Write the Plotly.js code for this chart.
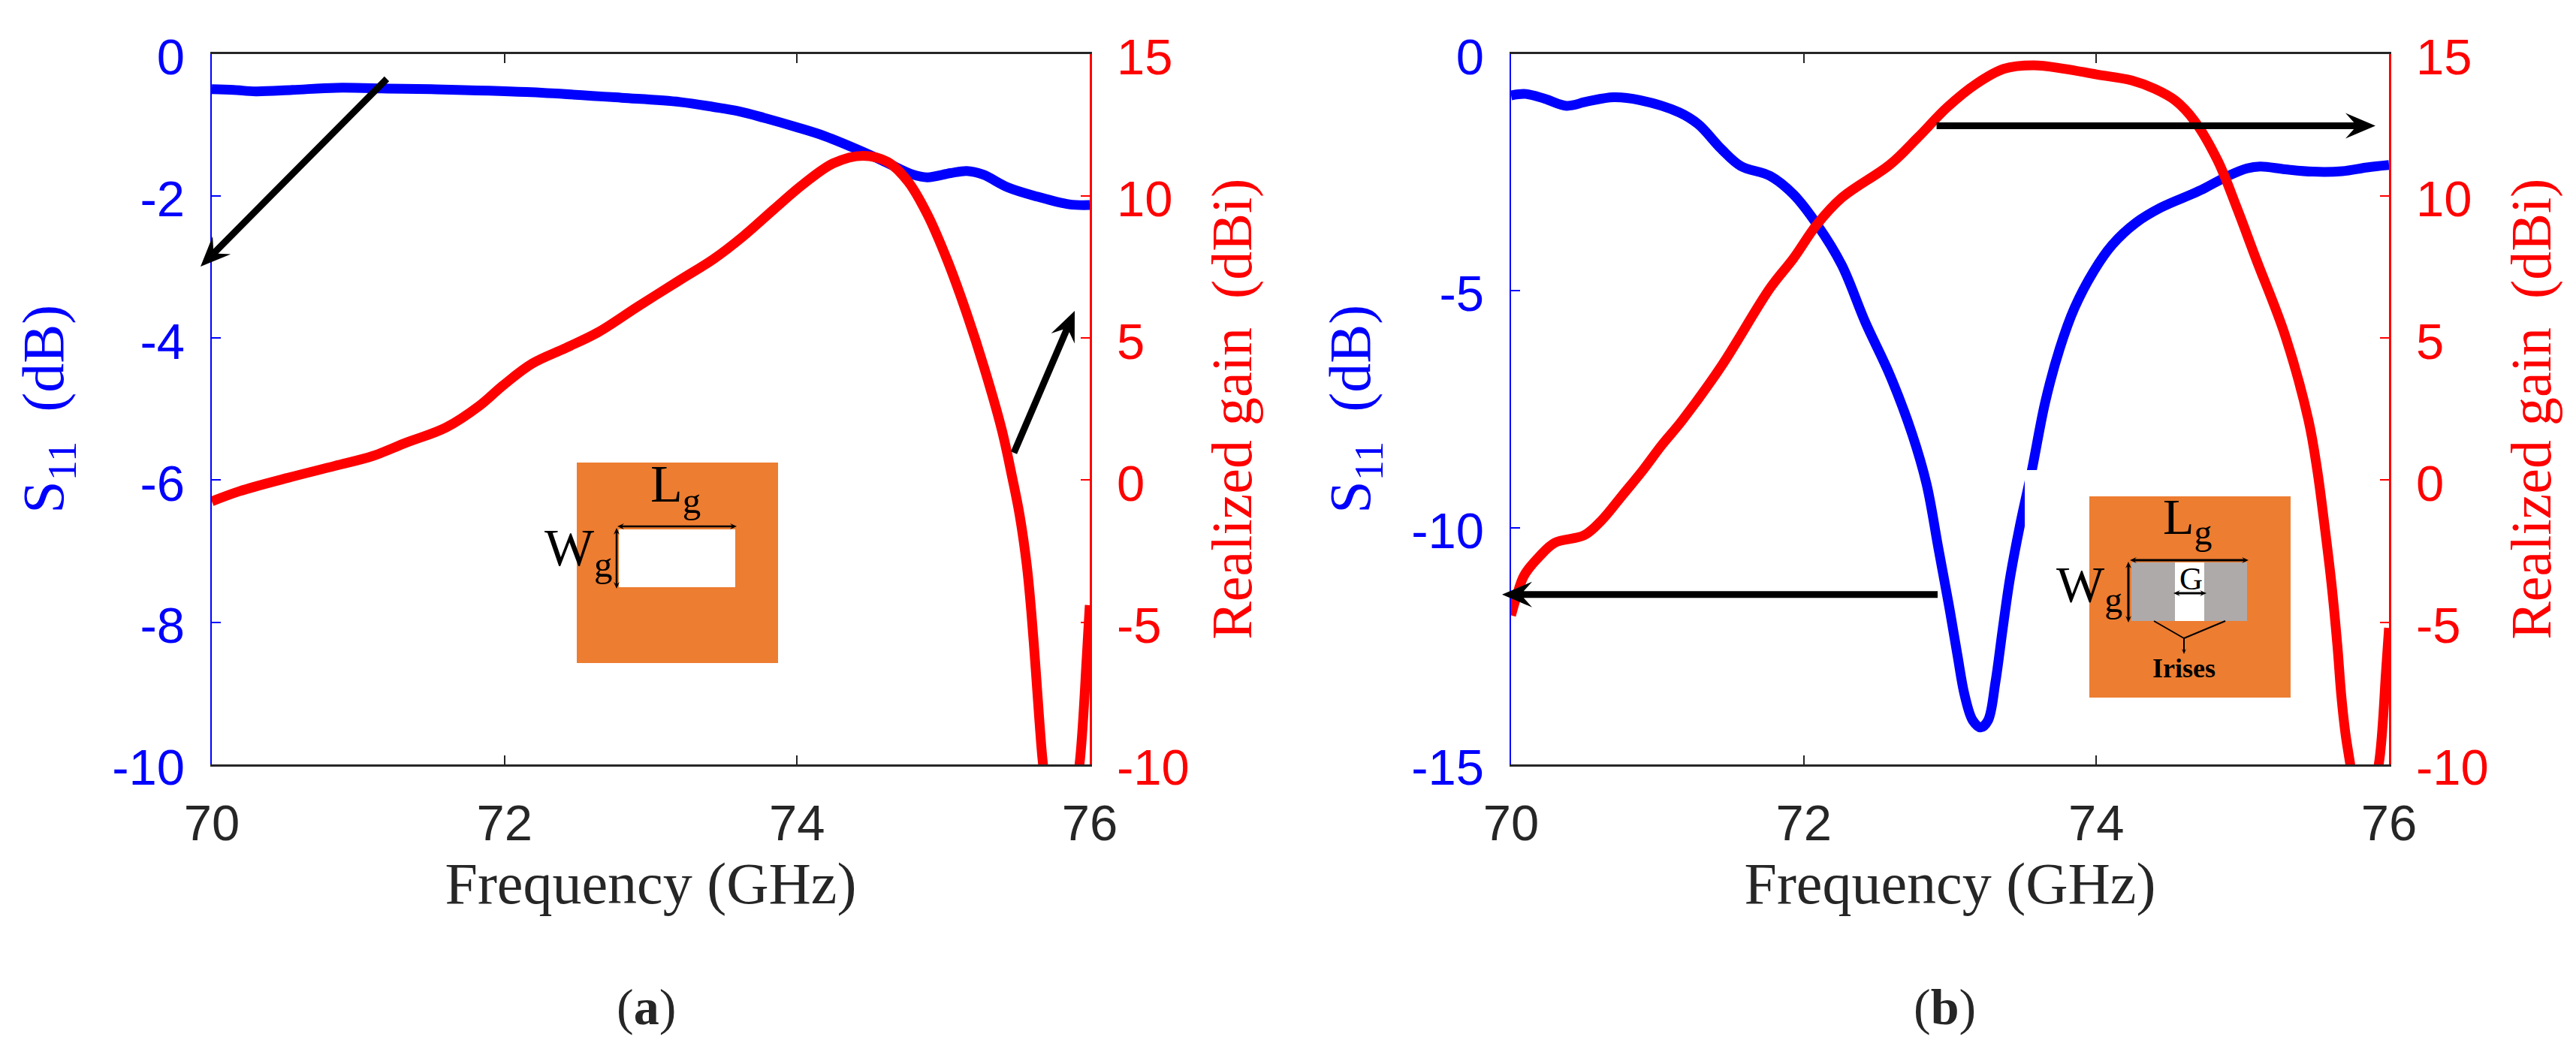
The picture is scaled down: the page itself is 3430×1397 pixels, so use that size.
<!DOCTYPE html>
<html><head><meta charset="utf-8">
<script src="https://cdn.plot.ly/plotly-3.0.1.min.js"></script>
<style>html,body{margin:0;padding:0;background:#fff}</style></head>
<body><div id="chart" style="width:3430px;height:1397px"></div>
<script>
// Panel (a)
const aS11Freq = [70,70.15,70.3,70.55,70.85,71.2,71.5,72.15,72.8,73.2,73.43,73.6,73.77,73.99,74.19,74.45,74.62,74.79,74.89,75.05,75.16,75.27,75.44,75.64,75.86,76];
const aS11Val  = [-0.5,-0.51,-0.53,-0.51,-0.48,-0.49,-0.5,-0.54,-0.62,-0.68,-0.75,-0.81,-0.9,-1.03,-1.16,-1.38,-1.54,-1.7,-1.74,-1.68,-1.65,-1.7,-1.88,-2.01,-2.12,-2.13];
const aGainFreq = [70,70.19,70.52,70.84,71.1,71.33,71.6,71.83,71.99,72.19,72.42,72.64,72.91,73.2,73.43,73.63,73.84,74.04,74.25,74.45,74.62,74.76,74.89,75.03,75.16,75.28,75.4,75.47,75.52,75.57,75.6,75.63,75.655,75.68,75.72,75.8,75.88,75.93,75.98,76];
const aGainVal  = [-0.75,-0.39,0.08,0.5,0.85,1.32,1.85,2.62,3.33,4.1,4.65,5.2,6.1,7.04,7.78,8.57,9.52,10.4,11.15,11.41,11.19,10.49,9.35,7.69,5.85,3.93,1.75,0.1,-1.2,-3.0,-4.6,-6.6,-8.4,-9.96,-11.5,-13.5,-11.5,-10,-6.2,-4.4];
// Panel (b)
const bS11Freq = [70,70.1,70.23,70.38,70.52,70.7,70.88,71.15,71.28,71.44,71.57,71.77,71.93,72.09,72.26,72.42,72.59,72.74,72.84,72.92,72.99,73.05,73.1,73.155,73.21,73.26,73.31,73.36,73.41,73.475,73.56,73.65,73.75,73.85,73.98,74.11,74.27,74.44,74.7,74.9,75.03,75.12,75.29,75.48,75.68,75.85,76];
const bS11Val  = [-0.88,-0.85,-0.95,-1.1,-1.01,-0.92,-0.98,-1.24,-1.49,-2.02,-2.37,-2.58,-2.97,-3.6,-4.46,-5.66,-6.79,-8.02,-9.09,-10.43,-11.6,-12.68,-13.54,-14.07,-14.22,-14.07,-13.27,-12.14,-11.07,-10.0,-8.78,-7.36,-6.22,-5.37,-4.6,-4.03,-3.57,-3.25,-2.9,-2.58,-2.42,-2.38,-2.44,-2.49,-2.48,-2.4,-2.35];
const bGainFreq = [70,70.04,70.09,70.2,70.3,70.5,70.62,70.76,70.9,71.03,71.17,71.44,71.77,71.93,72.09,72.26,72.59,72.78,72.98,73.18,73.37,73.57,73.78,74,74.24,74.4,74.54,74.67,74.83,74.96,75.09,75.29,75.45,75.51,75.555,75.606,75.647,75.674,75.702,75.734,75.78,75.83,75.87,75.93,75.98,76];
const bGainVal  = [-4.76,-4.05,-3.35,-2.65,-2.2,-1.94,-1.41,-0.54,0.34,1.23,2.1,4.03,6.75,7.8,8.99,9.93,11.1,12.05,13.11,13.94,14.47,14.59,14.47,14.27,14.06,13.76,13.35,12.64,11.23,9.58,7.8,5.09,2.1,0.34,-1.41,-3.6,-5.8,-7.58,-8.9,-9.96,-11.5,-12,-11.2,-10,-6.7,-5.2];
// Ticks and labels
const freqTicks = [70,72,74,76];
const aS11Ticks = [0,-2,-4,-6,-8,-10];
const aS11TickText = ['0','-2','-4','-6','-8','-10'];
const bS11Ticks = [0,-5,-10,-15];
const bS11TickText = ['0','-5','-10','-15'];
const gainTicks = [15,10,5,0,-5,-10];
const gainTickText = ['15','10','5','0','-5','-10'];
const xTitle = 'Frequency (GHz)';
const s11Title = 'S<sub>11</sub>\u00a0\u00a0(dB)';
const gainTitle = 'Realized gain\u00a0\u00a0(dBi)';

const W = 3430, H = 1397;
const px = x => x / W, py = y => 1 - y / H;
const SERIF = 'Liberation Serif', SANS = 'Liberation Sans';
const BLUE = '#0000ff', RED = '#ff0000', DARK = '#262626', ORANGE = '#ed7d31', GREY = '#aeaaaa';
const X_DOM = [[282, 1451], [2012, 3181]];
const Y_DOM = [py(1018), py(71.5)];

function line(x, y, color, xa, ya) {
  return {x, y, xaxis: xa, yaxis: ya, mode: 'lines', showlegend: false, hoverinfo: 'skip',
          line: {color, width: 13, shape: 'spline', smoothing: 1}};
}
const data = [
  line(aS11Freq, aS11Val, BLUE, 'x', 'y'),
  line(aGainFreq, aGainVal, RED, 'x', 'y2'),
  line(bS11Freq, bS11Val, BLUE, 'x2', 'y3'),
  line(bGainFreq, bGainVal, RED, 'x2', 'y4')
];
function xAxis(dom, anchor) {
  return {domain: [px(dom[0]), px(dom[1])], anchor, range: [70, 76], tickvals: freqTicks, ticktext: freqTicks.map(String),
    ticks: 'inside', ticklen: 12, tickwidth: 2, tickcolor: DARK, mirror: 'ticks', showline: true, linecolor: DARK, linewidth: 2.5,
    showgrid: false, zeroline: false, ticklabelstandoff: 18,
    tickfont: {family: SANS, size: 67, color: DARK},
    title: {text: xTitle, font: {family: SERIF, size: 78, color: DARK}, standoff: 16}};
}
function yAxis(range, vals, text, color, title, side, anchor, overlay, standoff, size) {
  const o = {domain: Y_DOM, anchor, range, tickvals: vals, ticktext: text, side,
    ticks: 'inside', ticklen: 12, tickwidth: 2, tickcolor: color, showline: true, linecolor: color, linewidth: 2.5,
    showgrid: false, zeroline: false, ticklabelstandoff: 20, ticklabelshift: 4,
    tickfont: {family: SANS, size: 67, color},
    title: {text: title, font: {family: SERIF, size, color}, standoff}};
  if (overlay) o.overlaying = overlay;
  return o;
}
function rect(x0, y0, x1, y1, fill) {
  return {type: 'rect', xref: 'paper', yref: 'paper', x0: px(x0), x1: px(x1), y0: py(y0), y1: py(y1),
          fillcolor: fill, line: {width: 0}, layer: 'above'};
}
function seg(x0, y0, x1, y1, w) {
  return {type: 'line', xref: 'paper', yref: 'paper', x0: px(x0), x1: px(x1), y0: py(y0), y1: py(y1),
          line: {color: '#000', width: w || 2}, layer: 'above'};
}
// Filled annotation arrow: shaft plus a swept head at each requested end.
// The outline is one closed polygon so no region overlaps under the even-odd fill.
function arrow(ox, oy, tx, ty, w, len, half, both) {
  const d = Math.hypot(tx - ox, ty - oy), ux = (tx - ox) / d, uy = (ty - oy) / d, nx = -uy, ny = ux;
  const at = (along, side) => [ox + ux * along + nx * side, oy + uy * along + ny * side];
  const notch = 0.72 * len;
  const pts = [at(d, 0), at(d - len, half), at(d - notch, w / 2)];
  if (both) pts.push(at(notch, w / 2), at(len, half), at(0, 0), at(len, -half), at(notch, -w / 2));
  else pts.push(at(0, w / 2), at(0, -w / 2));
  pts.push(at(d - notch, -w / 2), at(d - len, -half));
  const path = 'M' + pts.map(p => px(p[0]) + ',' + py(p[1])).join('L') + 'Z';
  return {type: 'path', xref: 'paper', yref: 'paper', path, fillcolor: '#000', line: {width: 0}, layer: 'above'};
}
function label(text, x, y, size, family, color) {
  return {text, xref: 'paper', yref: 'paper', x: px(x), y: py(y), xanchor: 'center', yanchor: 'middle', showarrow: false,
          font: {family: family || SERIF, size, color: color || '#000'}};
}
const shapes = [
  rect(768, 616, 1036, 883, ORANGE),
  rect(824, 705, 979, 782, '#ffffff'),
  arrow(822, 701, 981, 701, 2.5, 9, 4, true),
  arrow(821, 703, 821, 784, 2.5, 9, 4, true),
  rect(2782, 661, 3050, 929, ORANGE),
  rect(2838, 749, 2992, 827, GREY),
  rect(2896, 749, 2935, 827, '#ffffff'),
  arrow(2836, 746, 2994, 746, 3, 9, 4, true),
  arrow(2834, 748, 2834, 829, 3, 9, 4, true),
  arrow(2894, 790, 2938, 790, 3, 9, 4, true),
  seg(2868, 827, 2908, 850, 2), seg(2963, 827, 2908, 850, 2),
  arrow(2908, 850, 2908, 871, 2, 7, 3, false),
  rect(2696, 626, 2775, 715, '#ffffff'),
  arrow(515, 105, 267, 355, 9, 40, 17, false),
  arrow(1350, 603, 1431, 414, 9, 40, 17, false),
  arrow(2578.6, 167.4, 3163, 167.4, 9, 40, 17, false),
  arrow(2580, 791.7, 2000, 791.7, 9, 40, 17, false)
];
const annotations = [
  label('(<b>a</b>)', 860, 1341, 68, SERIF, DARK),
  label('(<b>b</b>)', 2589, 1341, 68, SERIF, DARK),
  label('L<sub>g</sub>', 900, 650, 70),
  label('W<sub>g</sub>', 770, 735, 70),
  label('L<sub>g</sub>', 2912, 692, 68),
  label('W<sub>g</sub>', 2782, 782, 68),
  label('G', 2917, 771, 43),
  label('<b>Irises</b>', 2908, 890, 36)
];
const layout = {
  width: W, height: H, margin: {l: 0, r: 0, t: 0, b: 0}, paper_bgcolor: '#fff', plot_bgcolor: 'rgba(0,0,0,0)', showlegend: false,
  xaxis: xAxis(X_DOM[0], 'y'),
  yaxis: yAxis([-10, 0], aS11Ticks, aS11TickText, BLUE, s11Title, 'left', 'x', null, 39, 78),
  yaxis2: yAxis([-10, 15], gainTicks, gainTickText, RED, gainTitle, 'right', 'x', 'y', 30, 76),
  xaxis2: xAxis(X_DOM[1], 'y3'),
  yaxis3: yAxis([-15, 0], bS11Ticks, bS11TickText, BLUE, s11Title, 'left', 'x2', null, 29, 78),
  yaxis4: yAxis([-10, 15], gainTicks, gainTickText, RED, gainTitle, 'right', 'x2', 'y3', 30, 76),
  shapes, annotations
};
Plotly.newPlot('chart', data, layout, {staticPlot: true, displayModeBar: false});
</script></body></html>
